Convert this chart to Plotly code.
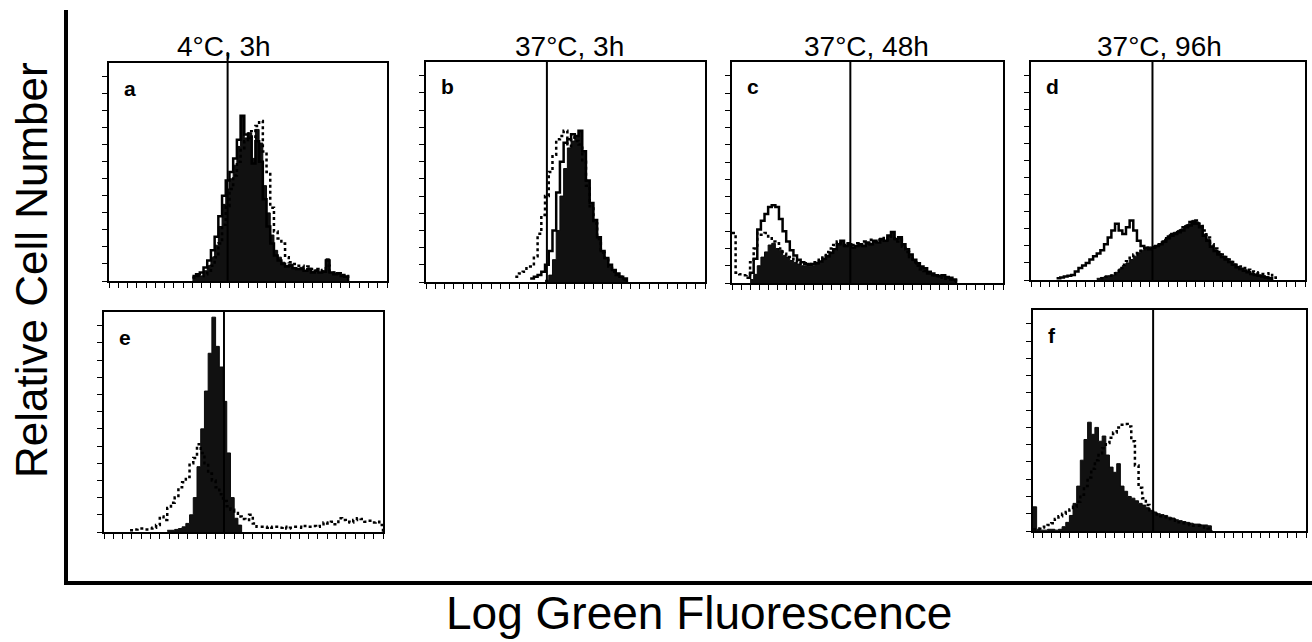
import plotly.graph_objects as go

# ---------------- data (channel values on a 0..300 log-fluorescence scale) ----------------
STEP = 4
X_MAX = 300
Y_MAX = 12.8

PANELS = ["a", "b", "c", "d", "e", "f"]
TITLES = {"a": "4°C, 3h", "b": "37°C, 3h", "c": "37°C, 48h", "d": "37°C, 96h"}
GATES = {"a": 128, "b": 130, "c": 131, "d": 133, "e": 129, "f": 132}

A_FILL_START = 90
A_FILL = [0.2, 0.35, 0.3, 0.6, 0.9, 1.4, 2.1, 3.2, 4.5, 5.4, 6.0, 6.8, 7.9, 9.6, 8.4, 8.7, 7.2, 8.9,
          8.1, 5.6, 4.0, 2.7, 1.8, 1.4, 1.1, 0.9, 1.0, 0.8, 0.7, 0.8, 0.6, 0.75, 0.55, 0.65, 0.5, 0.6,
          1.3, 0.5, 0.45, 0.5, 0.35, 0.3, 0]
A_SOLID_START = 90
A_SOLID = [0.3, 0.4, 0.5, 0.8, 1.2, 1.8, 2.6, 3.8, 5.0, 5.9, 6.4, 7.2, 8.3, 9.7, 8.6, 8.4, 6.9, 8.2,
           7.0, 4.8, 3.2, 2.2, 1.5, 1.2, 1.0, 0.85, 0.9, 0.75, 0.7, 0.7, 0.6, 0.7, 0.5, 0.6, 0.5, 0.55,
           1.2, 0.5, 0.4, 0.45, 0.3, 0.25, 0]
A_DOT_START = 90
A_DOT = [0.2, 0.3, 0.3, 0.4, 0.6, 0.9, 1.4, 2.2, 3.3, 4.4, 5.4, 6.2, 7.0, 7.8, 8.2, 8.8, 8.4, 9.1,
         9.4, 7.6, 6.4, 4.3, 2.9, 2.5, 2.2, 1.4, 1.1, 1.0, 0.9, 0.9, 0.8, 0.85, 0.7, 0.7, 0.6, 0.65,
         0.9, 0.55, 0.5, 0.45, 0.35, 0.3, 0]

B_FILL_START = 128
B_FILL = [0.1, 0.4, 1.3, 3.0, 5.0, 6.6, 7.8, 8.2, 8.5, 8.7, 7.6, 5.9, 4.6, 3.6, 2.6, 1.8, 1.4, 1.0,
          0.7, 0.5, 0.3, 0.2, 0]
B_SOLID_START = 112
B_SOLID = [0.2, 0.3, 0.4, 0.6, 1.0, 1.8, 3.0, 5.2, 7.0, 8.1, 8.3, 8.6, 8.5, 8.8, 7.6, 5.9, 4.6, 3.6,
           2.6, 1.8, 1.4, 1.0, 0.7, 0.5, 0.3, 0.2, 0]
B_DOT_START = 96
B_DOT = [0.3, 0.5, 0.6, 0.8, 0.9, 1.5, 2.8, 3.9, 5.0, 6.4, 7.4, 8.3, 8.5, 8.8, 7.9, 8.4, 8.2, 8.0,
         7.0, 5.6, 4.4, 3.4, 2.5, 1.7, 1.3, 0.9, 0.6, 0.4, 0.3, 0.15, 0]

C_FILL_START = 20
C_FILL = [0.2, 0.5, 1.0, 1.5, 1.8, 2.2, 2.3, 2.0, 1.9, 1.6, 1.5, 1.3, 1.2, 1.1, 1.0, 1.0, 0.95, 1.0,
          1.1, 1.2, 1.35, 1.5, 1.7, 1.9, 2.2, 2.4, 2.1, 2.2, 2.0, 2.1, 2.2, 2.1, 2.3, 2.2, 2.4, 2.3,
          2.5, 2.4, 2.7, 2.9, 2.5, 2.6, 2.2, 1.9, 1.6, 1.3, 1.1, 0.9, 0.8, 0.6, 0.5, 0.4, 0.35, 0.4,
          0.3, 0.3, 0.2, 0]
C_SOLID_START = 16
C_SOLID = [0.3, 0.6, 1.4, 3.1, 3.6, 4.0, 4.4, 4.5, 4.4, 3.7, 3.0, 2.4, 1.9, 1.6, 1.35, 1.2, 1.1, 1.05,
           1.1, 1.15, 1.25, 1.4, 1.55, 1.75, 1.95, 2.25, 2.45, 2.15, 2.25, 2.05, 2.15, 2.25, 2.15,
           2.35, 2.25, 2.45, 2.35, 2.55, 2.45, 2.75, 2.95, 2.55, 2.65, 2.25, 1.95, 1.65, 1.35, 1.15,
           0.95, 0.85, 0.65, 0.55, 0.45, 0.4, 0.45, 0.35, 0.3, 0.2, 0]
C_DOT_START = 0
C_DOT = [2.9, 0.6, 0.5, 0.45, 0.5, 1.2, 2.0, 2.9, 2.8, 2.9, 2.7, 2.4, 2.3, 2.0, 1.7, 1.5, 1.4, 1.3,
         1.2, 1.1, 1.15, 1.1, 1.2, 1.3, 1.45, 1.6, 1.8, 2.0, 2.2, 2.4, 2.3, 2.2, 2.3, 2.2, 2.3, 2.2,
         2.4, 2.3, 2.5, 2.4, 2.5, 2.6, 2.5, 2.6, 2.7, 2.4, 2.5, 2.1, 1.8, 1.5, 1.2, 1.0, 0.8, 0.7,
         0.55, 0.45, 0.4, 0.3, 0.35, 0.25, 0.2, 0.15, 0]

D_FILL_START = 72
D_FILL = [0.1, 0.15, 0.2, 0.25, 0.3, 0.45, 0.65, 0.85, 1.0, 1.2, 1.4, 1.6, 1.75, 1.8, 1.85, 1.9,
          2.0, 2.1, 2.3, 2.5, 2.7, 2.8, 2.9, 3.0, 3.2, 3.3, 3.5, 3.4, 3.2, 2.7, 2.4, 2.0, 1.75, 1.55,
          1.4, 1.25, 1.1, 0.95, 0.8, 0.7, 0.6, 0.5, 0.4, 0.35, 0.3, 0.25, 0.2, 0.15, 0]
D_SOLID_START = 28
D_SOLID = [0.1, 0.15, 0.2, 0.25, 0.3, 0.5, 0.7, 0.85, 1.0, 1.2, 1.4, 1.55, 1.75, 2.1, 2.5, 2.9, 3.3,
           2.9, 2.7, 3.1, 3.5, 2.9, 2.3, 2.0, 1.9, 1.8, 1.9, 2.0, 2.1, 2.25, 2.45, 2.6, 2.7, 2.8,
           2.9, 3.1, 3.2, 3.4, 3.3, 3.1, 2.6, 2.3, 1.95, 1.7, 1.5, 1.35, 1.2, 1.05, 0.9, 0.75, 0.65,
           0.55, 0.45, 0.35, 0.3, 0.25, 0.2, 0.15, 0.1, 0]
D_DOT_START = 76
D_DOT = [0.1, 0.2, 0.25, 0.35, 0.5, 0.7, 0.9, 1.1, 1.3, 1.5, 1.7, 1.8, 1.85, 1.9, 1.95, 2.05, 2.2,
         2.35, 2.55, 2.7, 2.75, 2.9, 3.1, 3.2, 3.4, 3.3, 3.5, 3.3, 2.9, 2.5, 2.1, 1.85, 1.65, 1.5,
         1.35, 1.2, 1.05, 0.9, 0.8, 0.7, 0.6, 0.5, 0.45, 0.4, 0.35, 0.35, 0.4, 0.15, 0]

E_FILL_START = 68
E_FILL = [0.1, 0.1, 0.15, 0.2, 0.3, 0.5, 1.0, 2.0, 3.8, 6.0, 8.2, 10.4, 12.5, 10.8, 9.6, 7.6, 4.6,
          2.0, 0.8, 0.4, 0]
E_DOT_START = 28
E_DOT = [0.1, 0.15, 0.2, 0.2, 0.15, 0.2, 0.25, 0.4, 0.9, 0.7, 1.4, 1.7, 2.0, 2.6, 2.9, 3.2, 4.0,
         4.3, 5.1, 4.6, 4.0, 3.4, 3.0, 2.6, 2.2, 1.8, 1.5, 1.3, 1.1, 0.9, 0.75, 0.7, 1.0, 0.5, 0.3,
         0.3, 0.25, 0.3, 0.25, 0.3, 0.25, 0.3, 0.2, 0.25, 0.3, 0.3, 0.25, 0.35, 0.3, 0.35, 0.3,
         0.45, 0.55, 0.5, 0.6, 0.45, 0.8, 0.7, 0.6, 0.55, 0.7, 0.8, 0.75, 0.6, 0.65, 0.55, 0.6,
         0.4, 0]

F_FILL_START = 0
F_FILL = [1.4, 0.1, 0.05, 0.05, 0.1, 0.1, 0.05, 0.1, 0.25, 0.5, 0.9, 1.6, 2.6, 4.1, 5.3, 6.3, 5.6,
          6.0, 5.2, 5.5, 4.4, 3.7, 3.4, 3.9, 2.6, 2.3, 2.0, 1.9, 1.75, 1.6, 1.5, 1.35, 1.2, 1.1, 1.0,
          0.95, 0.9, 0.8, 0.75, 0.65, 0.6, 0.55, 0.5, 0.45, 0.4, 0.4, 0.35, 0.35, 0.3, 0]
F_DOT_START = 0
F_DOT = [0.1, 0.15, 0.2, 0.25, 0.35, 0.45, 0.7, 0.85, 1.0, 1.1, 1.25, 1.4, 1.7, 2.1, 2.6, 3.1, 3.6,
         4.1, 4.5, 4.8, 5.1, 5.4, 5.7, 6.0, 6.15, 6.2, 6.05, 5.2, 3.8, 2.5, 1.9, 1.5, 1.2, 1.05,
         0.95, 0.85, 0.8, 0.7, 0.65, 0.6, 0.5, 0.45, 0.4, 0.35, 0.3, 0.3, 0.25, 0.2, 0.15, 0]

SERIES = {
    "a": {"fill": (A_FILL_START, A_FILL), "solid": (A_SOLID_START, A_SOLID), "dot": (A_DOT_START, A_DOT)},
    "b": {"fill": (B_FILL_START, B_FILL), "solid": (B_SOLID_START, B_SOLID), "dot": (B_DOT_START, B_DOT)},
    "c": {"fill": (C_FILL_START, C_FILL), "solid": (C_SOLID_START, C_SOLID), "dot": (C_DOT_START, C_DOT)},
    "d": {"fill": (D_FILL_START, D_FILL), "solid": (D_SOLID_START, D_SOLID), "dot": (D_DOT_START, D_DOT)},
    "e": {"fill": (E_FILL_START, E_FILL), "dot": (E_DOT_START, E_DOT)},
    "f": {"fill": (F_FILL_START, F_FILL), "dot": (F_DOT_START, F_DOT)},
}

# ---------------- layout (pixel boxes: left, right, top, bottom) ----------------
W, H = 1312, 642
BOXES = {
    "a": (109, 387, 63, 281),
    "b": (426, 705, 62, 282),
    "c": (732, 1003, 62, 283),
    "d": (1031, 1305, 62, 280),
    "e": (104, 383, 312, 532),
    "f": (1033, 1306, 310, 531),
}
TITLE_X = {"a": 224, "b": 569, "c": 866, "d": 1159}
FONT = "Liberation Sans, Arial, Helvetica, sans-serif"


def px(x):
    return x / W


def py(y):
    return 1 - y / H


fig = go.Figure()
layout = dict(
    width=W, height=H, autosize=False,
    margin=dict(l=0, r=0, t=0, b=0),
    paper_bgcolor="white", plot_bgcolor="white",
    showlegend=False,
    font=dict(family=FONT, color="black"),
)
shapes = []
annotations = []

for i, p in enumerate(PANELS, start=1):
    xa = "x" if i == 1 else f"x{i}"
    ya = "y" if i == 1 else f"y{i}"
    l, r, t, b = BOXES[p]
    layout[f"xaxis{'' if i == 1 else i}"] = dict(
        domain=[px(l), px(r)], anchor=ya, range=[0, X_MAX],
        showline=True, mirror=True, linecolor="black", linewidth=1.5,
        ticks="outside", ticklen=5, tickwidth=1, tickcolor="black",
        tick0=0, dtick=10, showticklabels=False, showgrid=False, zeroline=False,
    )
    layout[f"yaxis{'' if i == 1 else i}"] = dict(
        domain=[py(b), py(t)], anchor=xa, range=[0, Y_MAX],
        showline=True, mirror=True, linecolor="black", linewidth=1.5,
        ticks="outside", ticklen=5, tickwidth=1, tickcolor="black",
        tick0=0, dtick=1, showticklabels=False, showgrid=False, zeroline=False,
    )
    ser = SERIES[p]
    for kind in ["fill", "solid", "dot"]:
        if kind not in ser:
            continue
        start, vals = ser[kind]
        xs = [start + k * STEP for k in range(len(vals))]
        if kind == "fill":
            fig.add_trace(go.Scatter(
                x=xs, y=vals, xaxis=xa, yaxis=ya, mode="lines",
                line=dict(color="#0a0a0a", width=1, shape="hv"),
                fill="tozeroy", fillcolor="#111111", hoverinfo="skip"))
        elif kind == "solid":
            fig.add_trace(go.Scatter(
                x=xs, y=vals, xaxis=xa, yaxis=ya, mode="lines",
                line=dict(color="black", width=2.5, shape="hv"), hoverinfo="skip"))
        else:
            fig.add_trace(go.Scatter(
                x=xs, y=vals, xaxis=xa, yaxis=ya, mode="lines",
                line=dict(color="black", width=2.5, shape="hv", dash="dot"), hoverinfo="skip"))

    # gate line
    shapes.append(dict(
        type="line", xref=f"{xa} domain", yref=f"{ya} domain",
        x0=GATES[p] / X_MAX, x1=GATES[p] / X_MAX, y0=0, y1=1.05 if p == "a" else 1.0,
        line=dict(color="black", width=2)))

    # panel letter
    annotations.append(dict(
        text=f"<b>{p}</b>", xref="paper", yref="paper", x=px(l + 13), y=py(t + 25),
        xanchor="left", yanchor="middle", showarrow=False,
        font=dict(size=21, family=FONT, color="black")))

    if p in TITLES:
        annotations.append(dict(
            text=TITLES[p], xref="paper", yref="paper", x=px(TITLE_X[p]), y=py(46),
            xanchor="center", yanchor="middle", showarrow=False,
            font=dict(size=28, family=FONT, color="black")))

# big L-shaped axis
shapes.append(dict(type="line", xref="paper", yref="paper", x0=px(66), x1=px(66),
                   y0=py(10), y1=py(585), line=dict(color="black", width=4)))
shapes.append(dict(type="line", xref="paper", yref="paper", x0=px(64), x1=px(1312),
                   y0=py(583), y1=py(583), line=dict(color="black", width=4)))

annotations.append(dict(
    text="Relative Cell Number", xref="paper", yref="paper", x=px(32), y=py(270),
    xanchor="center", yanchor="middle", textangle=-90, showarrow=False,
    font=dict(size=44, family=FONT, color="black")))
annotations.append(dict(
    text="Log Green Fluorescence", xref="paper", yref="paper", x=px(699), y=py(613),
    xanchor="center", yanchor="middle", showarrow=False,
    font=dict(size=46, family=FONT, color="black")))

layout["shapes"] = shapes
layout["annotations"] = annotations
fig.update_layout(**layout)

fig.write_html(
    "out.html",
    config={"displayModeBar": False},
    post_script="document.body.style.margin='0px';document.body.style.overflow='hidden';",
)
